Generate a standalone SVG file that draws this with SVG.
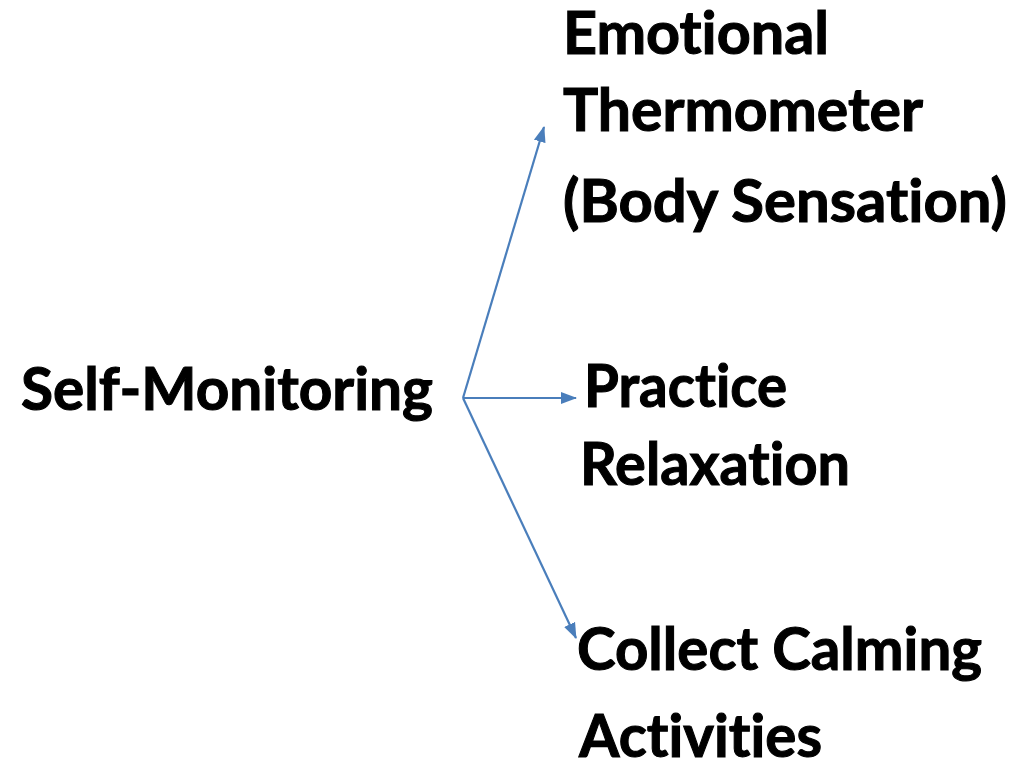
<svg xmlns="http://www.w3.org/2000/svg" width="1025" height="764" viewBox="0 0 1025 764">
<style>
text{font-family:Lato,"Open Sans","Liberation Sans",sans-serif;font-weight:bold;font-size:60px;fill:#000;stroke:#000;stroke-width:1.1;font-variant-ligatures:none;font-feature-settings:"liga" 0}
.c{stroke:#4a7ebb;stroke-width:2.2;fill:none}
</style>
<defs>
<marker id="ah" markerUnits="userSpaceOnUse" markerWidth="16" markerHeight="14" refX="15" refY="7" orient="auto">
<path d="M0,1 L16,7 L0,13 Z" fill="#4a7ebb"/>
</marker>
</defs>
<rect width="1025" height="764" fill="#fff"/>
<g id="connectors">
<line class="c" x1="463" y1="398" x2="544" y2="127" marker-end="url(#ah)"/>
<line class="c" x1="463" y1="398" x2="576" y2="398" marker-end="url(#ah)"/>
<line class="c" x1="463" y1="398" x2="576" y2="638" marker-end="url(#ah)"/>
</g>
<g id="self-monitoring">
<text x="21" y="410" textLength="412" lengthAdjust="spacingAndGlyphs">Self-Monitoring</text>
</g>
<g id="emotional-thermometer">
<text x="563" y="54" textLength="266" lengthAdjust="spacingAndGlyphs">Emotional</text>
<text x="563" y="131" textLength="360" lengthAdjust="spacingAndGlyphs">Thermometer</text>
<text x="563" y="222" textLength="444" lengthAdjust="spacingAndGlyphs">(Body Sensation)</text>
</g>
<g id="practice-relaxation">
<text x="584" y="407" textLength="203" lengthAdjust="spacingAndGlyphs">Practice</text>
<text x="580" y="485" textLength="270" lengthAdjust="spacingAndGlyphs">Relaxation</text>
</g>
<g id="collect-calming-activities">
<text x="577" y="670" textLength="405" lengthAdjust="spacingAndGlyphs">Collect Calming</text>
<text x="579" y="757" textLength="243" lengthAdjust="spacingAndGlyphs">Activities</text>
</g>
</svg>
